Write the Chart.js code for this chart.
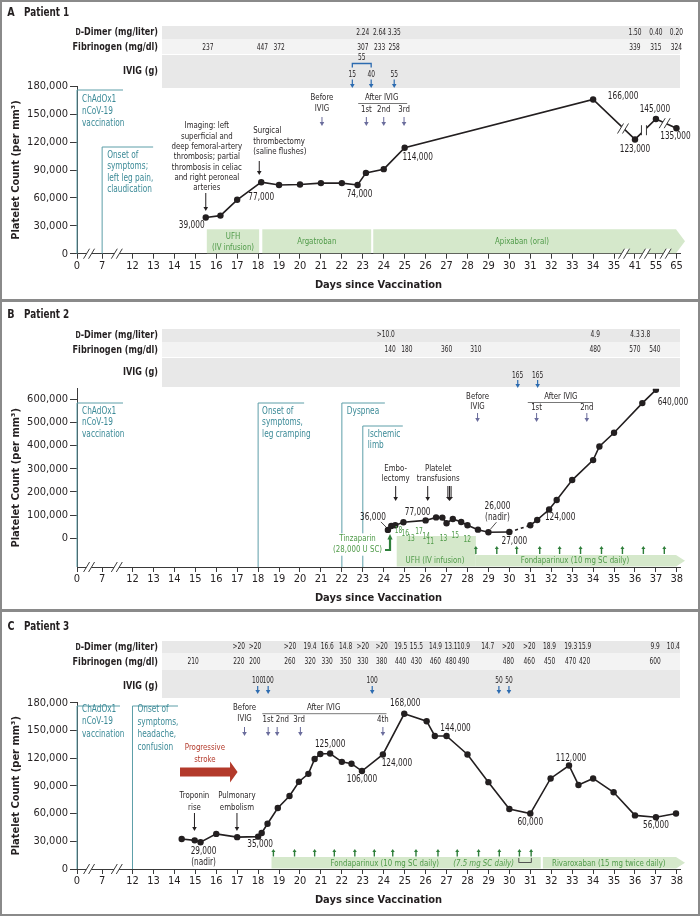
<!DOCTYPE html>
<html>
<head>
<meta charset="utf-8">
<script src="https://cdn.jsdelivr.net/npm/chart.js@4.4.1/dist/chart.umd.min.js"></script>
<style>
  html, body { margin: 0; padding: 0; background: #fff; }
  #fig { position: relative; width: 700px; height: 916px; overflow: hidden; background: #fff; }
  .panel { position: absolute; left: 0; width: 700px; }
  .panel canvas { display: block; }
  .rule { position: absolute; background: #8a8a8a; }
</style>
</head>
<body>
<div id="fig">
  <div class="panel" style="top:0;height:300px"><canvas id="chartA" width="700" height="300"></canvas></div>
  <div class="panel" style="top:300px;height:310px"><canvas id="chartB" width="700" height="310"></canvas></div>
  <div class="panel" style="top:610px;height:306px"><canvas id="chartC" width="700" height="306"></canvas></div>
  <div class="rule" style="left:0;top:0;width:700px;height:2px"></div>
  <div class="rule" style="left:0;top:914px;width:700px;height:2px"></div>
  <div class="rule" style="left:0;top:0;width:2px;height:916px"></div>
  <div class="rule" style="left:698px;top:0;width:2px;height:916px"></div>
  <div class="rule" style="left:0;top:299px;width:700px;height:3px"></div>
  <div class="rule" style="left:0;top:609px;width:700px;height:3px"></div>
</div>
<script>
// ---- Patient 1 ----
const p1TickDays = [0, 7, 12, 13, 14, 15, 16, 17, 18, 19, 20, 21, 22, 23, 24, 25, 26, 27, 28, 29, 30, 31, 32, 33, 34, 35, 41, 55, 65];
const p1Days = [15.5, 16.2, 17.0, 18.15, 19.0, 20.0, 21.0, 22.0, 22.75, 23.15, 24.0, 25.0, 34.0, 41, 55, 65];
const p1Platelets = [39000, 41000, 58000, 77000, 74000, 74500, 76000, 76000, 74000, 87000, 91000, 114000, 166000, 123000, 145000, 135000];
const p1YTicks = [0, 30000, 60000, 90000, 120000, 150000, 180000];
const p1DdimerDays = [23.0, 23.8, 24.5, 41, 55, 65];
const p1Ddimer = ['2.24', '2.64', '3.35', '1.50', '0.40', '0.20'];
const p1FibDays = [15.6, 18.2, 19.0, 23.0, 23.8, 24.5, 41, 55, 65];
const p1Fib = ['237', '447', '372', '307', '233', '258', '339', '315', '324'];
const p1IvigDays = [22.5, 23.4, 24.5];
const p1IvigDoses = ['15', '40', '55'];
const p1Treatments = [['UFH', 15.55, 18.05], ['Argatroban', 18.2, 23.4], ['Apixaban (oral)', 23.5, null]];

// ---- Patient 2 ----
const p2TickDays = [0, 7, 12, 13, 14, 15, 16, 17, 18, 19, 20, 21, 22, 23, 24, 25, 26, 27, 28, 29, 30, 31, 32, 33, 34, 35, 36, 37, 38];
const p2Days = [24.2, 24.36, 24.55, 24.94, 26.0, 26.5, 26.8, 27.0, 27.3, 27.7, 28.0, 28.5, 29.0, 30.0, 31.0, 31.33, 31.9, 32.26, 33.0, 34.0, 34.3, 35.0, 36.35, 37.0];
const p2Platelets = [36000, 53000, 56000, 69000, 77000, 90000, 89000, 65000, 83000, 70000, 56000, 37000, 26000, 27000, 56000, 79000, 124000, 165000, 251000, 337000, 396000, 455000, 583000, 640000];
const p2DashedFromDay = 30.0;
const p2YTicks = [0, 100000, 200000, 300000, 400000, 500000, 600000];
const p2DdimerDays = [24.1, 34.1, 36.0, 36.5];
const p2Ddimer = ['>10.0', '4.9', '4.3', '3.8'];
const p2FibDays = [24.3, 25.1, 27.0, 28.4, 34.1, 36.0, 36.95];
const p2Fib = ['140', '180', '360', '310', '480', '570', '540'];
const p2IvigDays = [30.4, 31.35];
const p2IvigDoses = ['165', '165'];
const p2UfhRateDays = [24.7, 25.03, 25.3, 25.69, 26.03, 26.22, 26.85, 27.42, 27.99];
const p2UfhRates = ['18', '16', '13', '17', '14', '11', '13', '15', '12'];
const p2FondaDoseDays = [28.4, 29.4, 30.35, 31.45, 32.4, 33.4, 34.4, 35.4, 36.4, 37.4];

// ---- Patient 3 ----
const p3TickDays = p2TickDays;
const p3Days = [14.35, 14.97, 15.25, 16.0, 17.0, 18.0, 18.17, 18.45, 18.94, 19.5, 19.95, 20.4, 20.7, 20.97, 21.44, 22.0, 22.46, 22.96, 23.96, 24.98, 26.05, 26.44, 27.0, 28.0, 29.0, 30.0, 31.0, 31.97, 32.85, 33.3, 34.0, 34.98, 36.0, 37.0, 37.96];
const p3Platelets = [32500, 31000, 29000, 38000, 34500, 35000, 39000, 49000, 66000, 79000, 94500, 103000, 119000, 124500, 125000, 116000, 114000, 106000, 124000, 168000, 160000, 144000, 144000, 124000, 94000, 65000, 60000, 98000, 112000, 91000, 98000, 83000, 58000, 56000, 60000];
const p3YTicks = p1YTicks;
const p3DdimerDays = [17.08, 17.85, 19.52, 20.48, 21.3, 22.18, 23.0, 23.9, 24.81, 25.56, 26.47, 27.21, 27.81, 28.97, 29.95, 30.95, 31.92, 32.93, 33.6, 36.96, 37.83];
const p3Ddimer = ['>20', '>20', '>20', '19.4', '16.6', '14.8', '>20', '>20', '19.5', '15.5', '14.9', '13.1', '10.9', '14.7', '>20', '>20', '18.9', '19.3', '15.9', '9.9', '10.4'];
const p3FibDays = [14.9, 17.08, 17.85, 19.52, 20.48, 21.3, 22.18, 23.0, 23.9, 24.81, 25.56, 26.47, 27.21, 27.81, 29.95, 30.95, 31.92, 32.93, 33.6, 36.96];
const p3Fib = ['210', '220', '200', '260', '320', '330', '350', '330', '380', '440', '430', '460', '480', '490', '480', '460', '450', '470', '420', '600'];
const p3IvigDays = [17.98, 18.48, 23.45, 29.5, 29.98];
const p3IvigDoses = ['100', '100', '100', '50', '50'];
const p3FondaDoseDays = [18.73, 19.74, 20.7, 21.64, 22.62, 23.55, 24.43, 25.54, 26.59, 27.51, 28.53, 29.52, 30.48, 31.04];

// broken time axis: days -> axis units
const breaksA = { days: [0, 7, 12, 35, 41, 55, 65], pos: [0, 1.2, 2.65, 25.65, 26.65, 27.65, 28.63] };
const breaksBC = { days: [0, 7, 12, 38], pos: [0, 1.2, 2.65, 28.65] };
function toPos(b, d) {
  const n = b.days.length;
  for (let i = 1; i < n; i++) {
    if (d <= b.days[i] || i === n - 1) {
      const t = (d - b.days[i - 1]) / (b.days[i] - b.days[i - 1]);
      return b.pos[i - 1] + t * (b.pos[i] - b.pos[i - 1]);
    }
  }
}

const FONT = "'Liberation Sans Narrow', 'DejaVu Sans Condensed', 'Liberation Sans', sans-serif";
const SQ = 0.82; // horizontal squeeze, the figure uses a condensed face
const INK = '#231f20', AXIS = '#3a3a3a', TEAL = '#3b8a97', TEAL_LINE = '#5d9ea8';
const GREEN = '#d5e8cb', GREEN_TXT = '#4f9a48', GREEN_DK = '#2f7f3b';
const BLUE = '#2c6bb0', PURPLE = '#6a6c9c', RED = '#b33a2b';
Chart.defaults.font.family = FONT;
Chart.defaults.color = INK;

// drawing helpers
function fontOf(o) {
  return (o.italic ? 'italic ' : '') + (o.bold ? 'bold ' : '') + (o.size || 10) + 'px ' + FONT;
}
function text(ctx, s, x, y, o) {
  o = o || {};
  ctx.save();
  ctx.font = fontOf(o);
  ctx.textAlign = o.align || 'center';
  ctx.textBaseline = 'middle';
  ctx.translate(x, y);
  ctx.scale(SQ, 1);
  if (o.bg) {
    const w = ctx.measureText(s).width + 4;
    const x0 = ctx.textAlign === 'center' ? -w / 2 : (ctx.textAlign === 'right' ? -w : 0);
    ctx.fillStyle = o.bg;
    ctx.fillRect(x0, -(o.size || 10) * 0.6, w, (o.size || 10) * 1.2);
  }
  ctx.fillStyle = o.color || INK;
  ctx.fillText(s, 0, 0);
  ctx.restore();
}
function textWidth(ctx, s, o) {
  ctx.save();
  ctx.font = fontOf(o);
  const w = ctx.measureText(s).width * SQ;
  ctx.restore();
  return w;
}
function textLines(ctx, arr, x, y, lh, o) {
  arr.forEach((s, i) => text(ctx, s, x, y + i * lh, o));
}
function path(ctx, pts, color, w, dash) {
  ctx.save();
  ctx.strokeStyle = color; ctx.lineWidth = w || 1;
  if (dash) ctx.setLineDash(dash);
  ctx.beginPath();
  pts.forEach((p, i) => i ? ctx.lineTo(p[0], p[1]) : ctx.moveTo(p[0], p[1]));
  ctx.stroke();
  ctx.restore();
}
function poly(ctx, pts, color) {
  ctx.save();
  ctx.fillStyle = color;
  ctx.beginPath();
  pts.forEach((p, i) => i ? ctx.lineTo(p[0], p[1]) : ctx.moveTo(p[0], p[1]));
  ctx.closePath();
  ctx.fill();
  ctx.restore();
}
function vArrow(ctx, x, y1, y2, color, w, hw, hl) {
  w = w || 1; hw = hw || 2.3; hl = hl || 4;
  const dir = Math.sign(y2 - y1);
  path(ctx, [[x, y1], [x, y2 - dir * hl]], color, w);
  poly(ctx, [[x - hw, y2 - dir * hl], [x + hw, y2 - dir * hl], [x, y2]], color);
}
function rect(ctx, x1, x2, y1, y2, color) {
  ctx.save(); ctx.fillStyle = color; ctx.fillRect(x1, y1, x2 - x1, y2 - y1); ctx.restore();
}
function arrowBand(ctx, x1, x2, tip, y1, y2, color) {
  poly(ctx, [[x1, y1], [x2, y1], [tip, (y1 + y2) / 2], [x2, y2], [x1, y2]], color);
}
function slashes(ctx, x, y, vertical) {
  const d = vertical ? 0 : 3;
  poly(ctx, [[x - 3 - d, y + 5], [x - 3 + d, y - 5], [x + 2 + d, y - 5], [x + 2 - d, y + 5]], '#fff');
  path(ctx, [[x - 3 - d, y + 5], [x - 3 + d, y - 5]], AXIS, 1);
  path(ctx, [[x + 2 - d, y + 5], [x + 2 + d, y - 5]], AXIS, 1);
}
function eventBox(g, x, yTop, width) {
  path(g.ctx, [[x + width, g.Y(yTop)], [x, g.Y(yTop)], [x, g.area.bottom]], TEAL_LINE, 1);
}
function headerBands(g, rows) {
  rows.forEach(r => rect(g.ctx, 162, 680, g.Y(r[0]), g.Y(r[1]), r[2]));
}
function headerText(g, ys, ddDays, dd, fbDays, fb) {
  const ctx = g.ctx;
  const w = textWidth(ctx, '-Dimer (mg/liter)', { bold: true, size: 11 });
  text(ctx, '-Dimer (mg/liter)', 158, g.Y(ys[0]), { bold: true, size: 11, align: 'right' });
  text(ctx, 'D', 158 - w, g.Y(ys[0]) + 0.5, { bold: true, size: 8.5, align: 'right' });
  text(ctx, 'Fibrinogen (mg/dl)', 158, g.Y(ys[1]), { bold: true, size: 11, align: 'right' });
  text(ctx, 'IVIG (g)', 158, g.Y(ys[2]), { bold: true, size: 11, align: 'right' });
  ddDays.forEach((d, i) => text(ctx, dd[i], g.X(d), g.Y(ys[0]), { size: 8 }));
  fbDays.forEach((d, i) => text(ctx, fb[i], g.X(d), g.Y(ys[1]), { size: 8 }));
}
function panelTitle(g, letter, label, y) {
  text(g.ctx, letter, 11, g.Y(y), { bold: true, size: 13 });
  text(g.ctx, label, 24, g.Y(y), { bold: true, size: 12, align: 'left' });
}
function pointLabels(g, days, counts, items) {
  items.forEach(it => {
    const x = g.X(days[it[0]]) + it[1], y = g.Yv(counts[it[0]]) + it[2];
    text(g.ctx, counts[it[0]].toLocaleString('en-US'), x, y, { size: 10 });
  });
}
function axisBreaks(g, tickDays, pairs) {
  pairs.forEach(p => {
    const x = (g.X(tickDays[p]) + g.X(tickDays[p + 1])) / 2;
    slashes(g.ctx, x, g.area.bottom, false);
  });
}
function lineYAt(chart, x) {
  const pts = chart.getDatasetMeta(0).data;
  for (let i = 1; i < pts.length; i++) {
    if (x <= pts[i].x) {
      const t = (x - pts[i - 1].x) / (pts[i].x - pts[i - 1].x);
      return pts[i - 1].y + t * (pts[i].y - pts[i - 1].y);
    }
  }
  return pts[pts.length - 1].y;
}

// panel decorations (page-pixel y values are shifted by the panel top)
const decorators = {
  chartA: {
    top: 0,
    under(g) {
      const ctx = g.ctx, X = g.X, Y = g.Y, b = g.area.bottom - 0.5;
      headerBands(g, [[26, 39, '#e8e8e8'], [39, 54, '#f3f3f3'], [55, 88, '#e8e8e8']]);
      p1Treatments.forEach(t => {
        const x1 = X(t[1]);
        if (t[2] === null) arrowBand(ctx, x1, g.area.right - 4, g.area.right + 5, Y(229.3), b, GREEN);
        else rect(ctx, x1, X(t[2]), Y(229.3), b, GREEN);
      });
      eventBox(g, X(0), 90, 46);
      eventBox(g, X(7), 147, 51);
    },
    over(g) {
      const ctx = g.ctx, X = g.X, Y = g.Y;
      panelTitle(g, 'A', 'Patient 1', 13);
      headerText(g, [32.5, 47.5, 71], p1DdimerDays, p1Ddimer, p1FibDays, p1Fib);
      // IVIG doses
      const bx1 = X(p1IvigDays[0]), bx2 = X(p1IvigDays[1]);
      path(ctx, [[bx1, Y(67.5)], [bx1, Y(63.5)], [bx2, Y(63.5)], [bx2, Y(67.5)]], BLUE, 1.3);
      text(ctx, '55', (bx1 + bx2) / 2, Y(57.5), { size: 8 });
      p1IvigDays.forEach((d, i) => {
        text(ctx, p1IvigDoses[i], X(d), Y(74.5), { size: 8 });
        vArrow(ctx, X(d), Y(79.5), Y(88), BLUE, 1.2);
      });
      // event boxes text
      textLines(ctx, ['ChAdOx1', 'nCoV-19', 'vaccination'], X(0) + 5, Y(99), 12, { color: TEAL, align: 'left' });
      textLines(ctx, ['Onset of', 'symptoms;', 'left leg pain,', 'claudication'], X(7) + 5, Y(155), 11.5, { color: TEAL, align: 'left' });
      // imaging
      textLines(ctx, ['Imaging: left', 'superficial and', 'deep femoral-artery', 'thrombosis; partial',
        'thrombosis in celiac', 'and right peroneal', 'arteries'], X(15.55), Y(126), 10.3, { size: 9.5 });
      vArrow(ctx, X(p1Days[0]), Y(193), Y(211), INK, 1);
      textLines(ctx, ['Surgical', 'thrombectomy', '(saline flushes)'], X(p1Days[3]) - 8, Y(131), 10.5, { size: 9.5, align: 'left' });
      vArrow(ctx, X(p1Days[3]) - 2, Y(161), Y(175), INK, 1);
      // IVIG timing
      textLines(ctx, ['Before', 'IVIG'], X(21.05), Y(98), 10.5, { size: 9.5 });
      vArrow(ctx, X(21.05), Y(117), Y(126), PURPLE, 1);
      text(ctx, 'After IVIG', X(23.9), Y(98), { size: 9.5 });
      path(ctx, [[X(22.78), Y(103.5)], [X(25.12), Y(103.5)]], '#555', 0.8);
      [[23.17, '1st'], [24.0, '2nd'], [24.97, '3rd']].forEach(a => {
        text(ctx, a[1], X(a[0]), Y(110), { size: 9.5 });
        vArrow(ctx, X(a[0]), Y(117), Y(126), PURPLE, 1);
      });
      // treatments text
      textLines(ctx, ['UFH', '(IV infusion)'], (X(15.55) + X(18.05)) / 2, Y(236.5), 11, { color: GREEN_TXT, size: 9.5 });
      text(ctx, 'Argatroban', (X(18.2) + X(23.4)) / 2, Y(241.5), { color: GREEN_TXT, size: 9.5 });
      text(ctx, 'Apixaban (oral)', X(30.6), Y(241.5), { color: GREEN_TXT, size: 9.5 });
      // point labels
      pointLabels(g, p1Days, p1Platelets, [[0, -14, 8], [3, 0, 15], [8, 2, 9], [11, 13, 10],
        [12, 30, -3], [13, 0, 10], [14, -1, -10], [15, -1, 8]]);
      // breaks
      axisBreaks(g, p1TickDays, [0, 1, 25, 26, 27]);
      [[25, false], [26, true], [27, false]].forEach(p => {
        const x = (X(p1TickDays[p[0]]) + X(p1TickDays[p[0] + 1])) / 2 - 1;
        slashes(ctx, x, lineYAt(g.chart, x), p[1]);
      });
    }
  },
  chartB: {
    top: 300,
    under(g) {
      const ctx = g.ctx, X = g.X, Y = g.Y, b = g.area.bottom - 0.5;
      headerBands(g, [[329, 342, '#e8e8e8'], [342, 357, '#f3f3f3'], [358, 387, '#e8e8e8']]);
      rect(ctx, X(24.62), X(28.4), Y(536), b, GREEN);
      arrowBand(ctx, X(28.4), g.area.right - 4, g.area.right + 5, Y(555), b, GREEN);
      eventBox(g, X(0), 403, 46);
      eventBox(g, X(18), 403, 46);
      eventBox(g, X(22), 403, 43);
      eventBox(g, X(23), 426, 40);
    },
    over(g) {
      const ctx = g.ctx, X = g.X, Y = g.Y;
      panelTitle(g, 'B', 'Patient 2', 315);
      headerText(g, [335, 350, 371.7], p2DdimerDays, p2Ddimer, p2FibDays, p2Fib);
      p2IvigDays.forEach((d, i) => {
        text(ctx, p2IvigDoses[i], X(d), Y(376), { size: 8 });
        vArrow(ctx, X(d), Y(380), Y(388), BLUE, 1.2);
      });
      textLines(ctx, ['ChAdOx1', 'nCoV-19', 'vaccination'], X(0) + 5, Y(411), 11.5, { color: TEAL, align: 'left' });
      textLines(ctx, ['Onset of', 'symptoms,', 'leg cramping'], X(18) + 4, Y(411), 11.5, { color: TEAL, align: 'left' });
      text(ctx, 'Dyspnea', X(22) + 5, Y(411), { color: TEAL, align: 'left' });
      textLines(ctx, ['Ischemic', 'limb'], X(23) + 5, Y(434), 11, { color: TEAL, align: 'left' });
      // IVIG timing
      textLines(ctx, ['Before', 'IVIG'], X(28.48), Y(396.5), 10.5, { size: 9.5 });
      vArrow(ctx, X(28.48), Y(413), Y(422), PURPLE, 1);
      text(ctx, 'After IVIG', X(32.46), Y(396.5), { size: 9.5 });
      path(ctx, [[X(30.88), Y(402.5)], [X(33.99), Y(402.5)]], '#555', 0.8);
      [[31.3, '1st'], [33.7, '2nd']].forEach(a => {
        text(ctx, a[1], X(a[0]), Y(407.5), { size: 9.5 });
        vArrow(ctx, X(a[0]), Y(413), Y(422), PURPLE, 1);
      });
      // procedures
      textLines(ctx, ['Embo-', 'lectomy'], X(24.57), Y(468.3), 10.7, { size: 9.5 });
      vArrow(ctx, X(24.57), Y(486), Y(501), INK, 1);
      textLines(ctx, ['Platelet', 'transfusions'], X(26.6), Y(468.3), 10.7, { size: 9.5 });
      vArrow(ctx, X(26.1), Y(486), Y(501), INK, 1);
      [-1.6, 0, 1.6].forEach(o => path(ctx, [[X(27.14) + o, Y(486)], [X(27.14) + o, Y(497)]], INK, 1));
      poly(ctx, [[X(27.14) - 3.5, Y(497)], [X(27.14) + 3.5, Y(497)], [X(27.14), Y(501)]], INK);
      // anticoagulation
      textLines(ctx, ['Tinzaparin', '(28,000 U SC)'], X(22.75), Y(539), 11, { color: GREEN_TXT, size: 9.5, bg: '#fff' });
      path(ctx, [[X(24.3) - 5, Y(550)], [X(24.3), Y(550)], [X(24.3), Y(539)]], GREEN_DK, 2.2);
      poly(ctx, [[X(24.3) - 2.6, Y(539.5)], [X(24.3) + 2.6, Y(539.5)], [X(24.3), Y(534)]], GREEN_DK);
      const rateY = [530.5, 534, 539, 532, 536.5, 542, 539, 535.5, 540];
      p2UfhRateDays.forEach((d, i) => text(ctx, p2UfhRates[i], X(d), Y(rateY[i]), { color: GREEN_TXT, size: 8 }));
      text(ctx, 'UFH (IV infusion)', X(26.45), Y(560.5), { color: GREEN_TXT, size: 9.5 });
      text(ctx, 'Fondaparinux (10 mg SC daily)', X(33.13), Y(561), { color: GREEN_TXT, size: 9.5 });
      p2FondaDoseDays.forEach(d => vArrow(ctx, X(d), Y(554), Y(546), GREEN_DK, 1.4, 2, 3));
      // labels
      pointLabels(g, p2Days, p2Platelets, [[0, -15, -12], [4, -8, -8], [13, 5, 9], [16, 11, 8]]);
      path(ctx, [[X(p2Days[0]) - 7, g.Yv(p2Platelets[0]) - 8], [X(p2Days[0]) - 1, g.Yv(p2Platelets[0]) - 2]], INK, 0.8);
      const nx = X(p2Days[12]), ny = g.Yv(p2Platelets[12]);
      textLines(ctx, [p2Platelets[12].toLocaleString('en-US'), '(nadir)'], nx + 9, ny - 25.5, 10.3, { size: 10 });
      path(ctx, [[nx + 8, ny - 10], [nx + 2, ny - 3]], INK, 0.8);
      const lx = X(p2Days[23]), ly = g.Yv(p2Platelets[23]);
      text(ctx, p2Platelets[23].toLocaleString('en-US'), lx + 17, ly + 13, { size: 10 });
      axisBreaks(g, p2TickDays, [0, 1]);
    }
  },
  chartC: {
    top: 610,
    under(g) {
      const ctx = g.ctx, X = g.X, Y = g.Y, b = g.area.bottom - 0.5;
      headerBands(g, [[641, 653, '#e8e8e8'], [653, 670, '#f3f3f3'], [670, 698, '#e8e8e8']]);
      rect(ctx, X(18.64), X(31.5), Y(857), b, GREEN);
      arrowBand(ctx, X(31.6), g.area.right - 4, g.area.right + 5, Y(857), b, GREEN);
      eventBox(g, X(0), 706, 43);
      eventBox(g, X(12), 706, 45.5);
      // progressive stroke arrow
      const s1 = X(14.27), s2 = X(16.66), s3 = X(17.02);
      poly(ctx, [[s1, Y(767.5)], [s2, Y(767.5)], [s2, Y(761.5)], [s3, Y(772)], [s2, Y(782.5)], [s2, Y(776.5)], [s1, Y(776.5)]], RED);
    },
    over(g) {
      const ctx = g.ctx, X = g.X, Y = g.Y;
      panelTitle(g, 'C', 'Patient 3', 627);
      headerText(g, [647, 662, 686], p3DdimerDays, p3Ddimer, p3FibDays, p3Fib);
      p3IvigDays.forEach((d, i) => {
        text(ctx, p3IvigDoses[i], X(d), Y(680.7), { size: 8 });
        vArrow(ctx, X(d), Y(686), Y(694), BLUE, 1.2);
      });
      textLines(ctx, ['ChAdOx1', 'nCoV-19', 'vaccination'], X(0) + 5, Y(709.5), 12.3, { color: TEAL, align: 'left' });
      textLines(ctx, ['Onset of', 'symptoms,', 'headache,', 'confusion'], X(12) + 5, Y(709.5), 12.7, { color: TEAL, align: 'left' });
      textLines(ctx, ['Progressive', 'stroke'], X(15.46), Y(748), 11.7, { color: RED, size: 9.5 });
      textLines(ctx, ['Troponin', 'rise'], X(14.96), Y(796), 11.3, { size: 9.5 });
      vArrow(ctx, X(14.96), Y(813), Y(831), INK, 1);
      textLines(ctx, ['Pulmonary', 'embolism'], X(16.99), Y(796), 11.3, { size: 9.5 });
      vArrow(ctx, X(16.99), Y(813), Y(831), INK, 1);
      // IVIG timing
      textLines(ctx, ['Before', 'IVIG'], X(17.35), Y(707.7), 11.3, { size: 9.5 });
      vArrow(ctx, X(17.35), Y(727), Y(736), PURPLE, 1);
      text(ctx, 'After IVIG', X(21.13), Y(707.7), { size: 9.5 });
      path(ctx, [[X(18.2), Y(713.7)], [X(24.13), Y(713.7)]], '#555', 0.8);
      [[18.47, '1st'], [19.16, '2nd'], [19.96, '3rd'], [23.96, '4th']].forEach(a => text(ctx, a[1], X(a[0]), Y(719.5), { size: 9.5 }));
      [18.48, 18.91, 20.02, 23.96].forEach(d => vArrow(ctx, X(d), Y(727), Y(736), PURPLE, 1));
      // anticoagulation
      p3FondaDoseDays.forEach(d => vArrow(ctx, X(d), Y(856.5), Y(849), GREEN_DK, 1.4, 2, 3));
      text(ctx, 'Fondaparinux (10 mg SC daily)', X(24.05), Y(863.3), { color: GREEN_TXT, size: 9.5 });
      text(ctx, '(7.5 mg SC daily)', X(28.77), Y(863.3), { color: GREEN_TXT, size: 9.5, italic: true });
      path(ctx, [[X(30.45), Y(858)], [X(30.45), Y(862.5)], [X(31.05), Y(862.5)], [X(31.05), Y(858)]], '#444', 0.9);
      text(ctx, 'Rivaroxaban (15 mg twice daily)', X(34.75), Y(863.3), { color: GREEN_TXT, size: 9.5 });
      // labels
      pointLabels(g, p3Days, p3Platelets, [[5, 2, 8], [14, 0, -9], [17, 0, 8], [18, 14, 9], [19, 1, -10.5],
        [22, 9, -8], [26, 0, 9], [28, 2, -7], [33, 0, 8.5]]);
      const nx = X(p3Days[2]), ny = g.Yv(p3Platelets[2]);
      textLines(ctx, [p3Platelets[2].toLocaleString('en-US'), '(nadir)'], nx + 3, ny + 9.5, 10.6, { size: 10 });
      axisBreaks(g, p3TickDays, [0, 1]);
    }
  }
};
const chartBreaks = { chartA: breaksA, chartB: breaksBC, chartC: breaksBC };

function helpers(chart) {
  const d = decorators[chart.canvas.id];
  const b = chartBreaks[chart.canvas.id];
  return {
    chart: chart,
    ctx: chart.ctx,
    area: chart.chartArea,
    X: day => chart.scales.x.getPixelForValue(toPos(b, day)),
    Yv: v => chart.scales.y.getPixelForValue(v),
    Y: p => p - d.top
  };
}
const decoPlugin = {
  id: 'deco',
  beforeDatasetsDraw(chart) { decorators[chart.canvas.id].under(helpers(chart)); },
  afterDraw(chart) { decorators[chart.canvas.id].over(helpers(chart)); }
};

function makeChart(id, o) {
  return new Chart(document.getElementById(id), {
    type: 'scatter',
    data: {
      datasets: [{
        data: o.days.map((d, i) => ({ x: toPos(o.breaks, d), y: o.counts[i] })),
        showLine: true,
        borderColor: INK,
        borderWidth: 1.6,
        pointRadius: 3.2,
        pointHoverRadius: 3.2,
        pointBackgroundColor: INK,
        pointBorderColor: INK,
        pointBorderWidth: 0,
        segment: o.segment
      }]
    },
    options: {
      responsive: false,
      animation: false,
      events: [],
      layout: { padding: o.padding },
      plugins: { legend: { display: false }, tooltip: { enabled: false } },
      scales: {
        x: {
          type: 'linear', min: 0, max: 28.8,
          afterBuildTicks: s => { s.ticks = o.tickDays.map(d => ({ value: toPos(o.breaks, d) })); },
          afterFit: s => { s.height = 40; },
          ticks: { autoSkip: false, maxRotation: 0, padding: 1, font: { size: 11 }, color: INK,
            callback: (v, i) => String(o.tickDays[i]) },
          grid: { display: true, drawOnChartArea: false, drawTicks: true, tickLength: 5, color: AXIS },
          border: { display: true, color: AXIS, width: 1 },
          title: { display: true, text: 'Days since Vaccination', font: { size: 11, weight: 'bold' }, color: INK,
            padding: { top: 3, bottom: 2 } }
        },
        y: {
          min: o.yMin, max: o.yMax,
          afterBuildTicks: s => { s.ticks = o.yTicks.map(v => ({ value: v })); },
          afterFit: s => { s.width = 71; },
          ticks: { font: { size: 11 }, color: INK, padding: 2, callback: v => v.toLocaleString('en-US') },
          grid: { display: true, drawOnChartArea: false, drawTicks: true, tickLength: 7, color: AXIS },
          border: { display: true, color: AXIS, width: 1 },
          title: { display: true, text: 'Platelet Count (per mm³)', font: { size: 11, weight: 'bold' }, color: INK,
            padding: { top: 4, bottom: 4 } }
        }
      }
    },
    plugins: [decoPlugin]
  });
}

makeChart('chartA', {
  days: p1Days, counts: p1Platelets, breaks: breaksA, tickDays: p1TickDays, yTicks: p1YTicks,
  yMin: 0, yMax: 180000, padding: { top: 86.5, bottom: 6.3, left: 6, right: 20 }
});
makeChart('chartB', {
  days: p2Days, counts: p2Platelets, breaks: breaksBC, tickDays: p2TickDays, yTicks: p2YTicks,
  yMin: -124000, yMax: 645000, padding: { top: 88.7, bottom: 3, left: 6, right: 20 },
  segment: { borderDash: ctx => (p2Days[ctx.p0DataIndex] === p2DashedFromDay ? [3, 3] : undefined) }
});
makeChart('chartC', {
  days: p3Days, counts: p3Platelets, breaks: breaksBC, tickDays: p3TickDays, yTicks: p3YTicks,
  yMin: 0, yMax: 180000, padding: { top: 92.7, bottom: 7, left: 6, right: 20 }
});
</script>
</body>
</html>
